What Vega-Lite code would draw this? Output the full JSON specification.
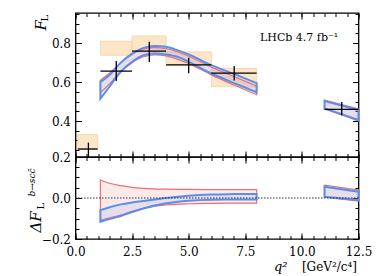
{
  "$schema": "https://vega.github.io/schema/vega-lite/v6.json",
  "padding": {"left": 26.5, "top": 11, "right": 5, "bottom": 5},
  "autosize": {"type": "pad"},
  "spacing": 0,
  "bounds": "flush",
  "resolve": {"scale": {"x": "independent", "y": "independent"}},
  "config": {
    "view": {"stroke": "#000", "strokeWidth": 1.3},
    "axis": {"domain": false, "grid": false, "tickColor": "#000", "tickWidth": 1, "labelColor": "#000", "titleColor": "#000", "labelFont": "DejaVu Serif", "labelFontSize": 12, "titleFont": "DejaVu Serif", "titleFontWeight": "normal", "labelFlush": false, "labelOverlap": false, "labelBound": false}
  },
  "datasets": {
    "boxes": [
      {"q1": 0.1, "q2": 0.98, "lo": 0.256, "hi": 0.331},
      {"q1": 1.1, "q2": 2.5, "lo": 0.738, "hi": 0.81},
      {"q1": 2.5, "q2": 4.0, "lo": 0.755, "hi": 0.837},
      {"q1": 4.0, "q2": 6.0, "lo": 0.687, "hi": 0.755},
      {"q1": 6.0, "q2": 8.0, "lo": 0.576, "hi": 0.67}
    ],
    "points": [
      {"q1": 0.1, "q2": 0.98, "qc": 0.57, "val": 0.256, "lo": 0.215, "hi": 0.289},
      {"q1": 1.1, "q2": 2.5, "qc": 1.8, "val": 0.656, "lo": 0.605, "hi": 0.708},
      {"q1": 2.5, "q2": 4.0, "qc": 3.26, "val": 0.759, "lo": 0.703, "hi": 0.807},
      {"q1": 4.0, "q2": 6.0, "qc": 5.0, "val": 0.688, "lo": 0.646, "hi": 0.725},
      {"q1": 6.0, "q2": 8.0, "qc": 7.01, "val": 0.646, "lo": 0.608, "hi": 0.683},
      {"q1": 11.0, "q2": 12.5, "qc": 11.76, "val": 0.46, "lo": 0.43, "hi": 0.497}
    ],
    "redTop": [
      {"q": 1.1, "lo": 0.545, "hi": 0.61, "seg": 1},
      {"q": 1.5, "lo": 0.59, "hi": 0.645, "seg": 1},
      {"q": 2.0, "lo": 0.655, "hi": 0.7, "seg": 1},
      {"q": 2.5, "lo": 0.7, "hi": 0.742, "seg": 1},
      {"q": 3.0, "lo": 0.73, "hi": 0.77, "seg": 1},
      {"q": 3.5, "lo": 0.74, "hi": 0.777, "seg": 1},
      {"q": 4.0, "lo": 0.735, "hi": 0.772, "seg": 1},
      {"q": 5.0, "lo": 0.695, "hi": 0.733, "seg": 1},
      {"q": 6.0, "lo": 0.637, "hi": 0.677, "seg": 1},
      {"q": 7.0, "lo": 0.585, "hi": 0.628, "seg": 1},
      {"q": 8.0, "lo": 0.535, "hi": 0.58, "seg": 1},
      {"q": 11.0, "lo": 0.462, "hi": 0.508, "seg": 2},
      {"q": 12.5, "lo": 0.4, "hi": 0.462, "seg": 2}
    ],
    "blueTop": [
      {"q": 1.1, "lo": 0.515, "hi": 0.6, "seg": 1},
      {"q": 1.5, "lo": 0.576, "hi": 0.636, "seg": 1},
      {"q": 2.0, "lo": 0.653, "hi": 0.7, "seg": 1},
      {"q": 2.5, "lo": 0.704, "hi": 0.747, "seg": 1},
      {"q": 3.0, "lo": 0.738, "hi": 0.776, "seg": 1},
      {"q": 3.5, "lo": 0.747, "hi": 0.786, "seg": 1},
      {"q": 4.0, "lo": 0.742, "hi": 0.781, "seg": 1},
      {"q": 4.5, "lo": 0.73, "hi": 0.764, "seg": 1},
      {"q": 5.0, "lo": 0.704, "hi": 0.742, "seg": 1},
      {"q": 6.0, "lo": 0.644, "hi": 0.687, "seg": 1},
      {"q": 7.0, "lo": 0.595, "hi": 0.642, "seg": 1},
      {"q": 8.0, "lo": 0.548, "hi": 0.595, "seg": 1},
      {"q": 11.0, "lo": 0.465, "hi": 0.503, "seg": 2},
      {"q": 12.5, "lo": 0.405, "hi": 0.456, "seg": 2}
    ],
    "redBot": [
      {"q": 1.1, "lo": -0.11, "hi": 0.088, "seg": 1},
      {"q": 1.5, "lo": -0.097, "hi": 0.072, "seg": 1},
      {"q": 2.0, "lo": -0.083, "hi": 0.06, "seg": 1},
      {"q": 2.5, "lo": -0.065, "hi": 0.052, "seg": 1},
      {"q": 3.0, "lo": -0.05, "hi": 0.047, "seg": 1},
      {"q": 4.0, "lo": -0.034, "hi": 0.043, "seg": 1},
      {"q": 5.0, "lo": -0.028, "hi": 0.042, "seg": 1},
      {"q": 6.0, "lo": -0.026, "hi": 0.041, "seg": 1},
      {"q": 7.0, "lo": -0.025, "hi": 0.041, "seg": 1},
      {"q": 8.0, "lo": -0.025, "hi": 0.041, "seg": 1},
      {"q": 11.0, "lo": 0.004, "hi": 0.063, "seg": 2},
      {"q": 12.5, "lo": -0.015, "hi": 0.039, "seg": 2}
    ],
    "blueBot": [
      {"q": 1.1, "lo": -0.116, "hi": -0.059, "seg": 1},
      {"q": 1.5, "lo": -0.103, "hi": -0.045, "seg": 1},
      {"q": 2.0, "lo": -0.088, "hi": -0.031, "seg": 1},
      {"q": 2.5, "lo": -0.068, "hi": -0.022, "seg": 1},
      {"q": 3.0, "lo": -0.051, "hi": -0.015, "seg": 1},
      {"q": 4.0, "lo": -0.026, "hi": 0.0, "seg": 1},
      {"q": 5.0, "lo": -0.013, "hi": 0.011, "seg": 1},
      {"q": 6.0, "lo": -0.008, "hi": 0.017, "seg": 1},
      {"q": 7.0, "lo": -0.007, "hi": 0.019, "seg": 1},
      {"q": 8.0, "lo": -0.007, "hi": 0.02, "seg": 1},
      {"q": 11.0, "lo": 0.006, "hi": 0.055, "seg": 2},
      {"q": 12.5, "lo": -0.01, "hi": 0.031, "seg": 2}
    ],
    "label": [{"q": 8.15, "v": 0.827, "text": "LHCb 4.7 fb⁻¹"}],
    "zero": [{"v": 0}]
  },
  "vconcat": [
    {
      "width": 283,
      "height": 144,
      "resolve": {"axis": {"x": "independent", "y": "independent"}},
      "layer": [
        {
          "data": {"name": "boxes"},
          "mark": {"type": "rect", "fill": "#fde6c8", "stroke": "#f6cfa2", "strokeWidth": 0.8},
          "encoding": {
            "x": {"field": "q1", "type": "quantitative", "scale": {"domain": [0, 12.5], "nice": false, "zero": false},
                  "axis": {"orient": "bottom", "values": [0, 2.5, 5, 7.5, 10, 12.5], "labels": false, "tickSize": -6, "title": null}},
            "x2": {"field": "q2"},
            "y": {"field": "lo", "type": "quantitative", "scale": {"domain": [0.215, 0.955], "nice": false, "zero": false},
                  "axis": {"orient": "left", "values": [0.4, 0.6, 0.8], "format": ".1f", "tickSize": -6, "labelPadding": 11,
                           "title": "F", "titleFontStyle": "italic", "titleFontSize": 15, "titleAngle": -90, "titleX": -30, "titleY": 17, "titleAlign": "left", "titleBaseline": "alphabetic"}},
            "y2": {"field": "hi"}
          }
        },
        {
          "data": {"name": "redTop"},
          "mark": {"type": "area", "interpolate": "monotone", "fill": "#f08a8a", "fillOpacity": 0.18, "stroke": "#ec6f73", "strokeWidth": 1.2},
          "encoding": {
            "x": {"field": "q", "type": "quantitative", "scale": {"domain": [0, 12.5], "nice": false, "zero": false},
                  "axis": {"orient": "bottom", "values": [0,0.5,1,1.5,2,2.5,3,3.5,4,4.5,5,5.5,6,6.5,7,7.5,8,8.5,9,9.5,10,10.5,11,11.5,12,12.5], "labels": false, "tickSize": -3.5, "title": null}},
            "y": {"field": "lo", "type": "quantitative", "scale": {"domain": [0.215, 0.955], "nice": false, "zero": false},
                  "axis": {"orient": "left", "values": [0.25,0.3,0.35,0.4,0.45,0.5,0.55,0.6,0.65,0.7,0.75,0.8,0.85,0.9,0.95], "labels": false, "tickSize": -3.5,
                           "title": "L", "titleFontSize": 10, "titleAngle": -90, "titleX": -28, "titleY": 8, "titleAlign": "left", "titleBaseline": "alphabetic"}},
            "y2": {"field": "hi"},
            "detail": {"field": "seg", "type": "nominal"}
          }
        },
        {
          "data": {"name": "blueTop"},
          "mark": {"type": "area", "interpolate": "monotone", "fill": "#6f9cef", "fillOpacity": 0.15, "stroke": "#5b8def", "strokeWidth": 2},
          "encoding": {
            "x": {"field": "q", "type": "quantitative", "scale": {"domain": [0, 12.5], "nice": false, "zero": false},
                  "axis": {"orient": "top", "values": [0, 2.5, 5, 7.5, 10, 12.5], "labels": false, "tickSize": -6, "title": null}},
            "y": {"field": "lo", "type": "quantitative", "scale": {"domain": [0.215, 0.955], "nice": false, "zero": false},
                  "axis": {"orient": "right", "values": [0.4, 0.6, 0.8], "labels": false, "tickSize": -6, "title": null}},
            "y2": {"field": "hi"},
            "detail": {"field": "seg", "type": "nominal"}
          }
        },
        {
          "data": {"name": "points"},
          "mark": {"type": "rule", "color": "#000", "strokeWidth": 1.3},
          "encoding": {
            "x": {"field": "q1", "type": "quantitative", "scale": {"domain": [0, 12.5], "nice": false, "zero": false},
                  "axis": {"orient": "top", "values": [0,0.5,1,1.5,2,2.5,3,3.5,4,4.5,5,5.5,6,6.5,7,7.5,8,8.5,9,9.5,10,10.5,11,11.5,12,12.5], "labels": false, "tickSize": -3.5, "title": null}},
            "x2": {"field": "q2"},
            "y": {"field": "val", "type": "quantitative", "scale": {"domain": [0.215, 0.955], "nice": false, "zero": false},
                  "axis": {"orient": "right", "values": [0.25,0.3,0.35,0.4,0.45,0.5,0.55,0.6,0.65,0.7,0.75,0.8,0.85,0.9,0.95], "labels": false, "tickSize": -3.5, "title": null}}
          }
        },
        {
          "data": {"name": "points"},
          "mark": {"type": "rule", "color": "#000", "strokeWidth": 1.3},
          "encoding": {
            "x": {"field": "qc", "type": "quantitative", "scale": {"domain": [0, 12.5], "nice": false, "zero": false}, "axis": null},
            "y": {"field": "lo", "type": "quantitative", "scale": {"domain": [0.215, 0.955], "nice": false, "zero": false}, "axis": null},
            "y2": {"field": "hi"}
          }
        },
        {
          "data": {"name": "label"},
          "mark": {"type": "text", "align": "left", "baseline": "middle", "font": "DejaVu Serif", "fontSize": 11, "color": "#000"},
          "encoding": {
            "x": {"field": "q", "type": "quantitative", "scale": {"domain": [0, 12.5], "nice": false, "zero": false}, "axis": null},
            "y": {"field": "v", "type": "quantitative", "scale": {"domain": [0.215, 0.955], "nice": false, "zero": false}, "axis": null},
            "text": {"field": "text"}
          }
        }
      ]
    },
    {
      "width": 283,
      "height": 82,
      "resolve": {"axis": {"x": "independent", "y": "independent"}},
      "layer": [
        {
          "data": {"name": "redBot"},
          "transform": [{"filter": "datum.seg == 1"}],
          "mark": {"type": "area", "interpolate": "monotone", "fill": "#f08a8a", "fillOpacity": 0.18, "stroke": "#ec6f73", "strokeWidth": 1.2},
          "encoding": {
            "x": {"field": "q", "type": "quantitative", "scale": {"domain": [0, 12.5], "nice": false, "zero": false},
                  "axis": {"orient": "bottom", "values": [0, 2.5, 5, 7.5, 10, 12.5], "format": ".1f", "tickSize": -6, "labelPadding": 13,
                           "title": "q²", "titleFontStyle": "italic", "titleFontSize": 13, "titleX": 198, "titleY": 31, "titleAlign": "left", "titleBaseline": "alphabetic"}},
            "y": {"field": "lo", "type": "quantitative", "scale": {"domain": [-0.2, 0.2], "nice": false, "zero": false},
                  "axis": {"orient": "left", "values": [-0.2, 0, 0.2], "format": ".1f", "tickSize": -6, "labelPadding": 11,
                           "title": "ΔF", "titleFontStyle": "italic", "titleFontSize": 15, "titleAngle": -90, "titleX": -35, "titleY": 75, "titleAlign": "left", "titleBaseline": "alphabetic"}},
            "y2": {"field": "hi"}
          }
        },
        {
          "data": {"name": "redBot"},
          "transform": [{"filter": "datum.seg == 2"}],
          "mark": {"type": "area", "interpolate": "monotone", "fill": "#f08a8a", "fillOpacity": 0.18, "stroke": "#ec6f73", "strokeWidth": 1.2},
          "encoding": {
            "x": {"field": "q", "type": "quantitative", "scale": {"domain": [0, 12.5], "nice": false, "zero": false},
                  "axis": {"orient": "bottom", "values": [0,0.5,1,1.5,2,2.5,3,3.5,4,4.5,5,5.5,6,6.5,7,7.5,8,8.5,9,9.5,10,10.5,11,11.5,12,12.5], "labels": false, "tickSize": -3.5,
                           "title": "[GeV²/c⁴]", "titleFontSize": 12, "titleX": 281, "titleY": 31, "titleAlign": "right", "titleBaseline": "alphabetic"}},
            "y": {"field": "lo", "type": "quantitative", "scale": {"domain": [-0.2, 0.2], "nice": false, "zero": false},
                  "axis": {"orient": "left", "values": [-0.2,-0.15,-0.1,-0.05,0,0.05,0.1,0.15,0.2], "labels": false, "tickSize": -3.5,
                           "title": "L", "titleFontSize": 10, "titleAngle": -90, "titleX": -32, "titleY": 52, "titleAlign": "left", "titleBaseline": "alphabetic"}},
            "y2": {"field": "hi"}
          }
        },
        {
          "data": {"name": "blueBot"},
          "transform": [{"filter": "datum.seg == 1"}],
          "mark": {"type": "area", "interpolate": "monotone", "fill": "#6f9cef", "fillOpacity": 0.15, "stroke": "#5b8def", "strokeWidth": 2},
          "encoding": {
            "x": {"field": "q", "type": "quantitative", "scale": {"domain": [0, 12.5], "nice": false, "zero": false},
                  "axis": {"orient": "top", "values": [0, 2.5, 5, 7.5, 10, 12.5], "labels": false, "tickSize": -6, "title": null}},
            "y": {"field": "lo", "type": "quantitative", "scale": {"domain": [-0.2, 0.2], "nice": false, "zero": false},
                  "axis": {"orient": "right", "values": [-0.2, 0, 0.2], "labels": false, "tickSize": -6,
                           "title": "b→scc̄", "titleFontStyle": "italic", "titleFontSize": 9, "titleAngle": -90, "titleX": -324, "titleY": 39, "titleAlign": "left", "titleBaseline": "alphabetic"}},
            "y2": {"field": "hi"}
          }
        },
        {
          "data": {"name": "blueBot"},
          "transform": [{"filter": "datum.seg == 2"}],
          "mark": {"type": "area", "interpolate": "monotone", "fill": "#6f9cef", "fillOpacity": 0.15, "stroke": "#5b8def", "strokeWidth": 2},
          "encoding": {
            "x": {"field": "q", "type": "quantitative", "scale": {"domain": [0, 12.5], "nice": false, "zero": false},
                  "axis": {"orient": "top", "values": [0,0.5,1,1.5,2,2.5,3,3.5,4,4.5,5,5.5,6,6.5,7,7.5,8,8.5,9,9.5,10,10.5,11,11.5,12,12.5], "labels": false, "tickSize": -3.5, "title": null}},
            "y": {"field": "lo", "type": "quantitative", "scale": {"domain": [-0.2, 0.2], "nice": false, "zero": false},
                  "axis": {"orient": "right", "values": [-0.2,-0.15,-0.1,-0.05,0,0.05,0.1,0.15,0.2], "labels": false, "tickSize": -3.5, "title": null}},
            "y2": {"field": "hi"}
          }
        },
        {
          "data": {"name": "zero"},
          "mark": {"type": "rule", "color": "#333", "strokeWidth": 1, "strokeDash": [1.5, 1.5]},
          "encoding": {
            "y": {"field": "v", "type": "quantitative", "scale": {"domain": [-0.2, 0.2], "nice": false, "zero": false}, "axis": null}
          }
        }
      ]
    }
  ]
}
